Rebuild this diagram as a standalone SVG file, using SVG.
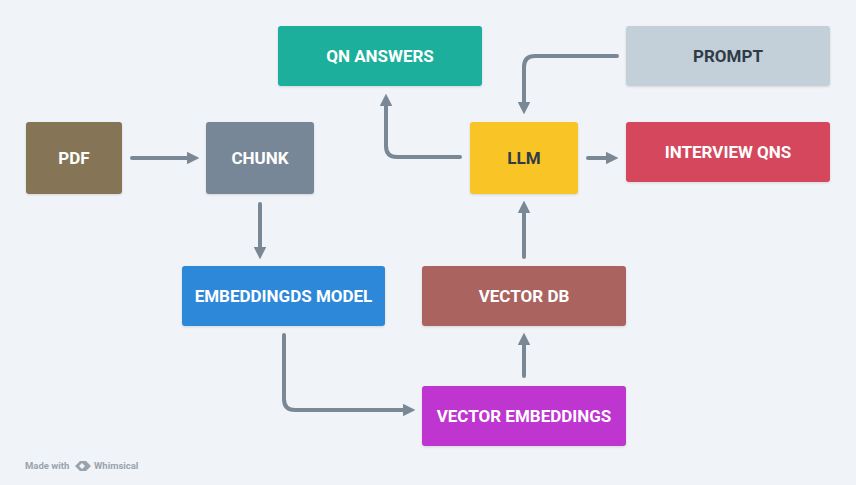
<svg xmlns="http://www.w3.org/2000/svg" width="856" height="485" viewBox="0 0 856 485">
<style>
.box{filter:url(#sh)}
.lbl{font-family:Roboto,"Noto Sans",sans-serif;font-weight:700;font-size:17px;text-anchor:middle;dominant-baseline:central;fill:#ffffff}
.dark{fill:#2f3b47}
.con{fill:none;stroke:#7a8896;stroke-width:4;stroke-linecap:round;stroke-linejoin:round}
.foot{font-family:Roboto,"Noto Sans",sans-serif;font-weight:700;font-size:9.5px;fill:#9aa3ad}
</style>
<defs>
<filter id="sh" x="-10%" y="-10%" width="120%" height="130%">
<feDropShadow dx="0" dy="1" stdDeviation="1" flood-color="#000" flood-opacity="0.12"/>
</filter>
<marker id="ah" viewBox="0 0 10 10" refX="5" refY="5" markerWidth="3.2" markerHeight="3.2" markerUnits="strokeWidth" orient="auto">
<path d="M0,0 L10,5 L0,10 z" fill="#7a8896"/>
</marker>
</defs>
<rect width="856" height="485" fill="#f0f3f7"/>
<g id="connectors">
<path class="con" d="M132,158 H193" marker-end="url(#ah)"/>
<path class="con" d="M260,204 V253" marker-end="url(#ah)"/>
<path class="con" d="M460,157 H397 Q386,157 386,146 V100" marker-end="url(#ah)"/>
<path class="con" d="M617,56 H535 Q524,56 524,67 V108" marker-end="url(#ah)"/>
<path class="con" d="M588,158 H612" marker-end="url(#ah)"/>
<path class="con" d="M524,257 V207" marker-end="url(#ah)"/>
<path class="con" d="M524,376 V339" marker-end="url(#ah)"/>
<path class="con" d="M284,335 V399 Q284,410 295,410 H409" marker-end="url(#ah)"/>
</g>
<g id="pdf"><rect class="box" x="26" y="122" width="96" height="72" rx="3" fill="#857557"/><text class="lbl" x="74" y="158">PDF</text></g>
<g id="chunk"><rect class="box" x="206" y="122" width="108" height="72" rx="3" fill="#788797"/><text class="lbl" x="260" y="158">CHUNK</text></g>
<g id="embeddings-model"><rect class="box" x="182" y="266" width="203" height="60" rx="3" fill="#2e88d9"/><text class="lbl" x="283.5" y="296">EMBEDDINGDS MODEL</text></g>
<g id="qn-answers"><rect class="box" x="278" y="26" width="204" height="60" rx="3" fill="#1aaf9c"/><text class="lbl" x="380" y="56">QN ANSWERS</text></g>
<g id="prompt"><rect class="box" x="626" y="26" width="204" height="60" rx="3" fill="#c3cfd9"/><text class="lbl dark" x="728" y="56">PROMPT</text></g>
<g id="llm"><rect class="box" x="470" y="122" width="108" height="72" rx="3" fill="#f8c426"/><text class="lbl dark" x="524" y="158">LLM</text></g>
<g id="interview-qns"><rect class="box" x="626" y="122" width="204" height="60" rx="3" fill="#d4465b"/><text class="lbl" x="728" y="152">INTERVIEW QNS</text></g>
<g id="vector-db"><rect class="box" x="422" y="266" width="204" height="60" rx="3" fill="#ab6361"/><text class="lbl" x="524" y="296">VECTOR DB</text></g>
<g id="vector-embeddings"><rect class="box" x="422" y="386" width="204" height="60" rx="3" fill="#bf35d0"/><text class="lbl" x="524" y="416">VECTOR EMBEDDINGS</text></g>
<g id="footer">
<text class="foot" x="25" y="469">Made with</text>
<path d="M75,466 L80,461 L86,461 L91,466 L86,471 L80,471 Z M79,466 L82,463 L85,466 L82,469 Z" fill="#9aa3ad" fill-rule="evenodd"/>
<text class="foot" x="94" y="469">Whimsical</text>
</g>
</svg>
